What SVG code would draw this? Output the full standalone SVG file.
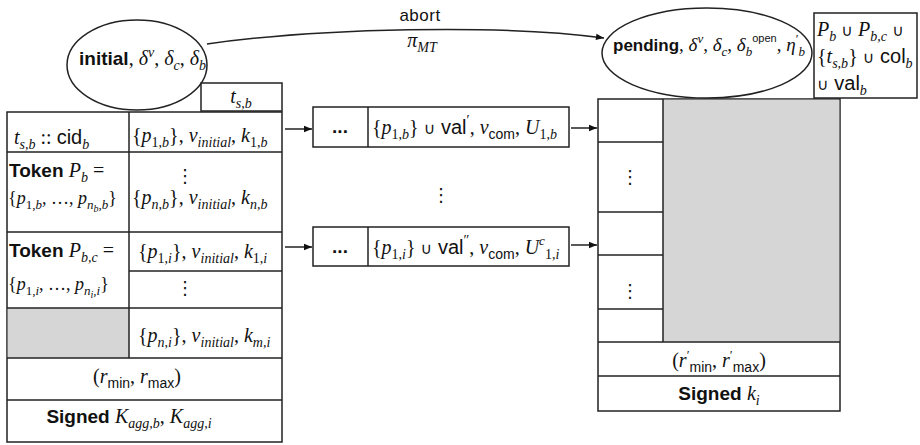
<svg xmlns="http://www.w3.org/2000/svg" width="920" height="445" viewBox="0 0 920 445">
<defs>
<style>
text{font-size:20px;fill:#111}
.i{font-family:"Liberation Serif","DejaVu Serif",serif;font-style:italic}
.n{font-family:"Liberation Serif","DejaVu Serif",serif;font-style:normal}
.s{font-family:"Liberation Sans","DejaVu Sans",sans-serif}
.b{font-family:"Liberation Sans","DejaVu Sans",sans-serif;font-weight:bold;font-size:19px}
.u{font-family:"DejaVu Sans",sans-serif;font-size:16px}
.z{font-size:14px}
.zs{font-size:13px}
.zz{font-size:10px}
.dots{font-family:"DejaVu Sans",sans-serif;font-size:18px;text-anchor:middle}
.box{fill:#fff;stroke:#222;stroke-width:1.5}
.ln{stroke:#222;stroke-width:1.5;fill:none}
.gray{fill:#d6d6d6;stroke:none}
.c{text-anchor:middle}
</style>
<marker id="ah" viewBox="0 0 10 10" refX="10" refY="5" markerWidth="9" markerHeight="8" orient="auto" markerUnits="userSpaceOnUse"><path d="M0,1 L10,5 L0,9 z" fill="#111"/></marker>
</defs>
<rect width="920" height="445" fill="#fff"/>

<g id="connectors">
<path class="ln" d="M207,44 C320,28 500,24 604,38" marker-end="url(#ah)"/>
<line class="ln" x1="285" y1="129" x2="312" y2="129" marker-end="url(#ah)"/>
<line class="ln" x1="285" y1="247" x2="312" y2="247" marker-end="url(#ah)"/>
<line class="ln" x1="571" y1="128" x2="597" y2="128" marker-end="url(#ah)"/>
<line class="ln" x1="571" y1="245" x2="597" y2="245" marker-end="url(#ah)"/>
<text class="s c" x="420" y="21" style="font-size:17px;letter-spacing:0.5px">abort</text>
<text class="c" x="422" y="47"><tspan class="i">π</tspan><tspan class="i z" dy="5">MT</tspan></text>
</g>

<g id="node-initial">
<ellipse class="box" cx="137" cy="65" rx="70" ry="45"/>
<text x="79" y="65"><tspan class="b">initial</tspan><tspan class="n">, </tspan><tspan class="i">δ</tspan><tspan class="i z" dy="-8">v</tspan><tspan class="n" dy="8">, </tspan><tspan class="i">δ</tspan><tspan class="i z" dy="5">c</tspan><tspan class="n" dy="-5">, </tspan><tspan class="i">δ</tspan><tspan class="i z" dy="5">b</tspan></text>
</g>

<g id="node-tsb">
<rect class="box" x="201" y="83" width="81" height="28"/>
<text class="c" x="241" y="103"><tspan class="i">t</tspan><tspan class="i z" dy="5">s,b</tspan></text>
</g>

<g id="node-left-table">
<rect class="box" x="7" y="112" width="275" height="330"/>
<rect class="gray" x="7.75" y="308" width="121" height="50"/>
<line class="ln" x1="129" y1="112" x2="129" y2="358"/>
<line class="ln" x1="7" y1="152" x2="282" y2="152"/>
<line class="ln" x1="7" y1="232" x2="282" y2="232"/>
<line class="ln" x1="129" y1="271" x2="282" y2="271"/>
<line class="ln" x1="7" y1="308" x2="282" y2="308"/>
<line class="ln" x1="7" y1="358" x2="282" y2="358"/>
<line class="ln" x1="7" y1="400" x2="282" y2="400"/>

<text x="14" y="144"><tspan class="i">t</tspan><tspan class="i z" dy="5">s,b</tspan><tspan class="n" dy="-5"> :: </tspan><tspan class="s">cid</tspan><tspan class="i z" dy="5">b</tspan></text>
<text x="132" y="142"><tspan class="n">{</tspan><tspan class="i">p</tspan><tspan class="n z" dy="5">1,</tspan><tspan class="i z">b</tspan><tspan class="n" dy="-5">}, </tspan><tspan class="i">ν</tspan><tspan class="i z" dy="5">initial</tspan><tspan class="n" dy="-5">, </tspan><tspan class="i">k</tspan><tspan class="n z" dy="5">1,</tspan><tspan class="i z">b</tspan></text>

<text x="9" y="177"><tspan class="b">Token </tspan><tspan class="i">P</tspan><tspan class="i z" dy="5">b</tspan><tspan class="n" dy="-5"> =</tspan></text>
<text x="8" y="204" style="font-size:18px"><tspan class="n">{</tspan><tspan class="i">p</tspan><tspan class="n zs" dy="5">1,</tspan><tspan class="i zs">b</tspan><tspan class="n" dy="-5">, …, </tspan><tspan class="i">p</tspan><tspan class="i zs" dy="5">n</tspan><tspan class="i zz" dy="3">b</tspan><tspan class="i zs" dy="-3">,b</tspan><tspan class="n" dy="-5">}</tspan></text>
<text class="dots" x="185" y="182">⋮</text>
<text x="132" y="204"><tspan class="n">{</tspan><tspan class="i">p</tspan><tspan class="i z" dy="5">n,b</tspan><tspan class="n" dy="-5">}, </tspan><tspan class="i">ν</tspan><tspan class="i z" dy="5">initial</tspan><tspan class="n" dy="-5">, </tspan><tspan class="i">k</tspan><tspan class="i z" dy="5">n,b</tspan></text>

<text x="9" y="257"><tspan class="b">Token </tspan><tspan class="i">P</tspan><tspan class="i z" dy="5">b,c</tspan><tspan class="n" dy="-5"> =</tspan></text>
<text x="138" y="258"><tspan class="n">{</tspan><tspan class="i">p</tspan><tspan class="n z" dy="5">1,</tspan><tspan class="i z">i</tspan><tspan class="n" dy="-5">}, </tspan><tspan class="i">ν</tspan><tspan class="i z" dy="5">initial</tspan><tspan class="n" dy="-5">, </tspan><tspan class="i">k</tspan><tspan class="n z" dy="5">1,</tspan><tspan class="i z">i</tspan></text>
<text x="8" y="290" style="font-size:18px"><tspan class="n">{</tspan><tspan class="i">p</tspan><tspan class="n zs" dy="5">1,</tspan><tspan class="i zs">i</tspan><tspan class="n" dy="-5">, …, </tspan><tspan class="i">p</tspan><tspan class="i zs" dy="5">n</tspan><tspan class="i zz" dy="3">i</tspan><tspan class="i zs" dy="-3">,i</tspan><tspan class="n" dy="-5">}</tspan></text>
<text class="dots" x="185" y="294">⋮</text>
<text x="138" y="342"><tspan class="n">{</tspan><tspan class="i">p</tspan><tspan class="i z" dy="5">n,i</tspan><tspan class="n" dy="-5">}, </tspan><tspan class="i">ν</tspan><tspan class="i z" dy="5">initial</tspan><tspan class="n" dy="-5">, </tspan><tspan class="i">k</tspan><tspan class="i z" dy="5">m,i</tspan></text>

<text class="c" x="137" y="383"><tspan class="n">(</tspan><tspan class="i">r</tspan><tspan class="s z" dy="5">min</tspan><tspan class="n" dy="-5">, </tspan><tspan class="i">r</tspan><tspan class="s z" dy="5">max</tspan><tspan class="n" dy="-5">)</tspan></text>
<text class="c" x="129" y="423"><tspan class="b">Signed </tspan><tspan class="i"> K</tspan><tspan class="i z" dy="5">agg,b</tspan><tspan class="n" dy="-5">, </tspan><tspan class="i">K</tspan><tspan class="i z" dy="5">agg,i</tspan></text>
</g>

<g id="node-mid1">
<rect class="box" x="313" y="107" width="256" height="40"/>
<line class="ln" x1="368" y1="107" x2="368" y2="147"/>
<text class="b c" x="340" y="133">...</text>
<text x="372" y="134"><tspan class="n">{</tspan><tspan class="i">p</tspan><tspan class="n z" dy="5">1,</tspan><tspan class="i z">b</tspan><tspan class="n" dy="-5">} </tspan><tspan class="u">∪</tspan><tspan class="s"> val</tspan><tspan class="n z" dy="-9">′</tspan><tspan class="n" dy="9">, </tspan><tspan class="i">ν</tspan><tspan class="s z" dy="5">com</tspan><tspan class="n" dy="-5">, </tspan><tspan class="i">U</tspan><tspan class="n z" dy="5">1,</tspan><tspan class="i z">b</tspan></text>
</g>

<g id="node-mid-dots">
<text class="dots" x="441" y="201">⋮</text>
</g>

<g id="node-mid2">
<rect class="box" x="313" y="227" width="256" height="39"/>
<line class="ln" x1="368" y1="227" x2="368" y2="266"/>
<text class="b c" x="340" y="253">...</text>
<text x="372" y="254"><tspan class="n">{</tspan><tspan class="i">p</tspan><tspan class="n z" dy="5">1,</tspan><tspan class="i z">i</tspan><tspan class="n" dy="-5">} </tspan><tspan class="u">∪</tspan><tspan class="s"> val</tspan><tspan class="n z" dy="-9">″</tspan><tspan class="n" dy="9">, </tspan><tspan class="i">ν</tspan><tspan class="s z" dy="5">com</tspan><tspan class="n" dy="-5">, </tspan><tspan class="i">U</tspan><tspan class="i zs" dy="-9">c</tspan><tspan class="n z" dy="14">1,</tspan><tspan class="i z">i</tspan></text>
</g>

<g id="node-right-table">
<rect class="box" x="598" y="99" width="242" height="312"/>
<rect class="gray" x="663" y="99.75" width="176.25" height="242"/>
<line class="ln" x1="663" y1="99" x2="663" y2="342"/>
<line class="ln" x1="598" y1="142" x2="663" y2="142"/>
<line class="ln" x1="598" y1="212" x2="663" y2="212"/>
<line class="ln" x1="598" y1="255" x2="663" y2="255"/>
<line class="ln" x1="598" y1="309" x2="663" y2="309"/>
<line class="ln" x1="598" y1="342" x2="840" y2="342"/>
<line class="ln" x1="598" y1="376" x2="840" y2="376"/>
<text class="dots" x="630" y="183">⋮</text>
<text class="dots" x="630" y="297">⋮</text>
<text class="c" x="719" y="367"><tspan class="n">(</tspan><tspan class="i">r</tspan><tspan class="n zs" dy="-8">′</tspan><tspan class="s z" dy="13">min</tspan><tspan class="n" dy="-5">, </tspan><tspan class="i">r</tspan><tspan class="n zs" dy="-8">′</tspan><tspan class="s z" dy="13">max</tspan><tspan class="n" dy="-5">)</tspan></text>
<text class="c" x="719" y="400"><tspan class="b">Signed </tspan><tspan class="i">k</tspan><tspan class="i z" dy="5">i</tspan></text>
</g>

<g id="node-pending">
<ellipse class="box" cx="707" cy="53" rx="105" ry="45"/>
<text x="613" y="51" style="font-size:19px"><tspan class="b" style="font-size:17px">pending</tspan><tspan class="n">, </tspan><tspan class="i">δ</tspan><tspan class="i zs" dy="-8">v</tspan><tspan class="n" dy="8">, </tspan><tspan class="i">δ</tspan><tspan class="i zs" dy="5">c</tspan><tspan class="n" dy="-5">, </tspan><tspan class="i">δ</tspan><tspan class="i zs" dy="5">b</tspan><tspan class="s" style="font-size:11px" dy="-14">open</tspan><tspan class="n" dy="9">, </tspan><tspan class="i">η</tspan><tspan class="n zs" dy="-8">′</tspan><tspan class="i zs" dy="13">b</tspan></text>
</g>

<g id="node-set-box">
<rect class="box" x="814" y="13" width="103" height="85"/>
<text x="817" y="36"><tspan class="i">P</tspan><tspan class="i z" dy="5">b</tspan><tspan class="u" dy="-5"> ∪ </tspan><tspan class="i">P</tspan><tspan class="i z" dy="5">b,c</tspan><tspan class="u" dy="-5"> ∪</tspan></text>
<text x="817" y="63"><tspan class="n">{</tspan><tspan class="i">t</tspan><tspan class="i z" dy="5">s,b</tspan><tspan class="n" dy="-5">} </tspan><tspan class="u">∪</tspan><tspan class="s"> col</tspan><tspan class="i z" dy="5">b</tspan></text>
<text x="817" y="90"><tspan class="u">∪</tspan><tspan class="s"> val</tspan><tspan class="i z" dy="5">b</tspan></text>
</g>
</svg>
